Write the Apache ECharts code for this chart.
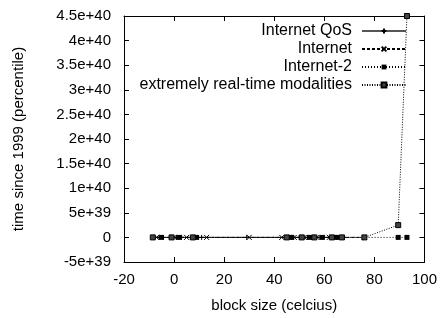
<!DOCTYPE html>
<html>
<head>
<meta charset="utf-8">
<script src="https://cdn.jsdelivr.net/npm/echarts@6/dist/echarts.min.js"></script>
<style>
  html, body { margin: 0; padding: 0; background: #fff; }
  #chart { width: 440px; height: 318px; }
</style>
</head>
<body>
<div id="chart"></div>
<script>
// series values
var qos_x = [-8, -6, 1, 3, 8, 11, 29, 46, 50, 55, 60, 64, 68]
var qos_y = [0, 0, 0, 0, 0, 0, 0, 0, 0, 0, 0, 0, 0]
var inet_x = [-7, 0, 5, 13, 30, 43, 48, 52, 57, 62, 66, 76]
var inet_y = [0, 0, 0, 0, 0, 0, 0, 0, 0, 0, 0, 0]
var inet2_x = [-5, 2, 9, 47, 54, 59, 65, 89.5, 93]
var inet2_y = [0, 0, 0, 0, 0, 0, 0, 0, 0]
var rt_x = [-8.5, -1, 7.5, 45, 51, 56, 63, 67, 76, 89.5, 93]
var rt_y = [0, 0, 0, 0, 0, 0, 0, 0, 0, 2.5e39, 4.5e40]

var names = ['Internet QoS', 'Internet', 'Internet-2', 'extremely real-time modalities']

function pairs(xs, ys){
	let out = []
	for(let i=0,len=xs.length;i<len;i++){
		out.push([xs[i], ys[i]])
	}
	return out
}

function fmt_y(v){
	if(Math.abs(v) < 1e30) return '0'
	return Number(v.toPrecision(3)).toExponential()
}

var font = 'Liberation Sans'
var fsize = 15
var chart = echarts.init(document.getElementById('chart'))
var option = {
	animation: false,
	grid: { left: 124, right: 13, top: 16, bottom: 53 },
	legend: {
		orient: 'vertical',
		right: 28,
		top: 18,
		align: 'right',
		itemWidth: 44,
		itemHeight: 6,
		itemGap: 2,
		data: names,
		textStyle: { fontFamily: font, fontSize: 16, color: '#000', lineHeight: 14, padding: [0, 5, 0, 0] }
	},
	xAxis: [
		{
			type: 'value', min: -20, max: 100, interval: 20,
			name: 'block size (celcius)', nameLocation: 'middle', nameGap: 36,
			nameTextStyle: { fontFamily: font, fontSize: fsize, color: '#000' },
			axisLine: { onZero: false, lineStyle: { color: '#000', width: 1 } },
			axisTick: { inside: true, length: 5, lineStyle: { color: '#000' } },
			axisLabel: { fontFamily: font, fontSize: fsize, color: '#000', margin: 10 },
			splitLine: { show: false }
		},
		{
			type: 'value', min: -20, max: 100, interval: 20, position: 'top',
			axisLine: { onZero: false, lineStyle: { color: '#000', width: 1 } },
			axisTick: { inside: true, length: 5, lineStyle: { color: '#000' } },
			axisLabel: { show: false },
			splitLine: { show: false }
		}
	],
	yAxis: [
		{
			type: 'value', min: -5e39, max: 4.5e40, interval: 5e39,
			name: 'time since 1999 (percentile)', nameLocation: 'middle', nameGap: 98,
			nameTextStyle: { fontFamily: font, fontSize: fsize, color: '#000' },
			axisLine: { show: true, onZero: false, lineStyle: { color: '#000', width: 1 } },
			axisTick: { show: true, inside: true, length: 5, lineStyle: { color: '#000' } },
			axisLabel: { fontFamily: font, fontSize: fsize, color: '#000', margin: 13, formatter: fmt_y },
			splitLine: { show: false }
		},
		{
			type: 'value', min: -5e39, max: 4.5e40, interval: 5e39, position: 'right',
			axisLine: { show: true, onZero: false, lineStyle: { color: '#000', width: 1 } },
			axisTick: { show: true, inside: true, length: 5, lineStyle: { color: '#000' } },
			axisLabel: { show: false },
			splitLine: { show: false }
		}
	],
	series: [
		{
			name: names[0], type: 'line', data: pairs(qos_x, qos_y),
			symbol: 'path://M0,5L10,5M5,0L5,10', symbolSize: 5,
			itemStyle: { color: '#000', borderColor: '#000', borderWidth: 1 },
			lineStyle: { color: '#555', width: 1, type: 'solid' }
		},
		{
			name: names[1], type: 'line', data: pairs(inet_x, inet_y),
			symbol: 'path://M0,0L10,10M10,0L0,10', symbolSize: 5,
			itemStyle: { color: '#000', borderColor: '#000', borderWidth: 1 },
			lineStyle: { color: '#000', width: 1, type: [3, 2] }
		},
		{
			name: names[2], type: 'line', data: pairs(inet2_x, inet2_y),
			symbol: 'rect', symbolSize: 5,
			itemStyle: { color: '#000' },
			lineStyle: { color: '#000', width: 1, type: [1, 2] }
		},
		{
			name: names[3], type: 'line', data: pairs(rt_x, rt_y),
			symbol: 'rect', symbolSize: 5,
			itemStyle: { color: '#444', borderColor: '#000', borderWidth: 1 },
			lineStyle: { color: '#000', width: 1, type: [1, 1.5] }
		}
	]
}
chart.setOption(option)
</script>
</body>
</html>
